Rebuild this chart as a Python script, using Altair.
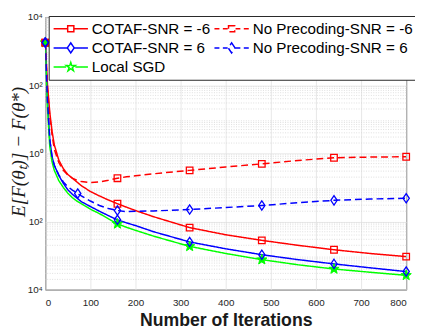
import math
import altair as alt
import pandas as pd

# ---------------- data ----------------
iterations = [0, 5, 10, 15, 20, 30, 40, 50, 60, 72, 80, 100, 120, 140, 160,
              180, 200, 240, 320, 400, 480, 560, 640, 720, 800]

cotaf_snr_m6 = [1778, 100, 15.8, 4.47, 1.78, 0.631, 0.355, 0.240, 0.186, 0.138,
                0.112, 0.0759, 0.0562, 0.0427, 0.0331, 0.0263, 0.0209, 0.0138,
                0.00661, 0.00407, 0.00279, 0.00200, 0.00148, 0.00115, 0.000933]
noprec_snr_m6 = [1778, 79.4, 12.6, 3.55, 1.32, 0.537, 0.316, 0.229, 0.186, 0.158,
                 0.148, 0.138, 0.145, 0.162, 0.186, 0.204, 0.219, 0.251,
                 0.316, 0.398, 0.490, 0.617, 0.741, 0.776, 0.794]
cotaf_snr_6 = [1778, 31.6, 2.51, 0.794, 0.447, 0.224, 0.132, 0.0851, 0.0631, 0.0468,
               0.0380, 0.0275, 0.0200, 0.0148, 0.0112, 0.00912, 0.00759, 0.00501,
               0.00251, 0.00158, 0.00106, 0.000759, 0.000569, 0.000437, 0.000339]
noprec_snr_6 = [1778, 31.6, 2.51, 0.794, 0.447, 0.234, 0.145, 0.105, 0.0832, 0.0661,
                0.0562, 0.0398, 0.0295, 0.0240, 0.0209, 0.0195, 0.0200, 0.0204,
                0.0224, 0.0257, 0.0295, 0.0355, 0.0417, 0.0457, 0.0479]
local_sgd = [1778, 20.0, 1.58, 0.562, 0.316, 0.158, 0.100, 0.0676, 0.0501, 0.0380,
             0.0331, 0.0229, 0.0170, 0.0120, 0.00851, 0.00676, 0.00550, 0.00372,
             0.00186, 0.00115, 0.000759, 0.000537, 0.000403, 0.000324, 0.000263]

# order = legend order (column by column)
series_names = ["COTAF-SNR = -6", "COTAF-SNR = 6", "Local SGD",
                "No Precoding-SNR = -6", "No Precoding-SNR = 6"]
series_values = [cotaf_snr_m6, cotaf_snr_6, local_sgd, noprec_snr_m6, noprec_snr_6]
series_colors = ["#ff0000", "#0000ff", "#00ff00", "#ff0000", "#0000ff"]

marker_iters = [0, 160, 320, 480, 640, 800]
marker_iters_np6 = [0, 72, 160, 320, 480, 640, 800]
series_markers = [marker_iters, marker_iters, marker_iters, marker_iters, marker_iters_np6]

x_ticks = [0, 100, 200, 300, 400, 500, 600, 700, 800]
y_exponents = [-4, -2, 0, 2, 4]
y_tick_labels = ["10⁴", "10²", "10⁰", "10²", "10⁴"]
y_ticks = [10.0 ** e for e in y_exponents]
y_minor = [k * 10.0 ** e for e in range(-4, 4) for k in range(2, 10)]

# ---------------- styles ----------------
SOLID = [1, 0]
DASHED = [7, 4]
series_dash = [SOLID, SOLID, SOLID, DASHED, DASHED]


def star_path(r_out, r_in, cx=0.0):
    pts = []
    for k in range(10):
        a = -math.pi / 2 + k * math.pi / 5
        r = r_out if k % 2 == 0 else r_in
        pts.append(f"{cx + r * math.cos(a):.3f},{r * math.sin(a):.3f}")
    return "M" + "L".join(pts) + "Z"


SQ = "M-0.18,-0.18H0.18V0.18H-0.18Z"
DI = "M0,-0.29L0.2,0L0,0.29L-0.2,0Z"
solid_line = lambda h: f"M-1,0H-{h}M{h},0H1"
dash_line = "M-1,0H-0.71M-0.51,0H-0.23M0.23,0H0.51M0.71,0H1"
legend_paths = [
    solid_line(0.18) + SQ,
    solid_line(0.2) + DI,
    solid_line(0.27) + star_path(0.27, 0.1),
    dash_line + SQ,
    dash_line + DI,
]

rows = []
for name, vals, marks in zip(series_names, series_values, series_markers):
    for it, v in zip(iterations, vals):
        rows.append({"series": name, "iteration": it, "value": v,
                     "marker": it in marks})
df = pd.DataFrame(rows)

label_expr = " : ".join(
    f"round(log(datum.value)/LN10) == {e} ? '{lab}'"
    for e, lab in zip(y_exponents, y_tick_labels)) + " : ''"

x_scale = alt.Scale(domain=[0, 800], nice=False, zero=False)
y_scale = alt.Scale(type="log", domain=[1e-4, 1e4], nice=False)

x_enc = alt.X("iteration:Q", scale=x_scale,
              axis=alt.Axis(values=x_ticks, title="Number of Iterations",
                            titleFontSize=18, titleFontWeight="bold",
                            titleFont="Liberation Sans", titleColor="#1a1a1a",
                            titleY=37, titleBaseline="alphabetic",
                            labelPadding=8))
y_axis = alt.Axis(values=y_ticks, labelExpr=label_expr,
                  title="E[F(θₜ)] − F(θ*)",
                  titleFont="Liberation Serif", titleFontStyle="italic",
                  titleFontWeight="normal", titleFontSize=19.5,
                  titleColor="#1a1a1a", titleAngle=270,
                  titleX=-27, titleY=137, titleAlign="center",
                  titleBaseline="middle", labelPadding=3)
y_enc = alt.Y("value:Q", scale=y_scale, axis=y_axis)
color_noleg = alt.Color("series:N",
                        scale=alt.Scale(domain=series_names, range=series_colors),
                        legend=None)

base = alt.Chart(df)

leg_props = dict(
    title=None, orient="none", legendX=3.5, legendY=-1, columns=2,
    symbolSize=1225, symbolStrokeWidth=1.5, symbolOpacity=1,
    symbolFillColor="#ffffff", labelLimit=300,
    labelFont="Liberation Sans", labelFontSize=15.5, labelColor="#000000",
    labelOffset=3, fillColor="#ffffff", strokeColor="#262626",
    padding=4, rowPadding=1.5, columnPadding=3, clipHeight=18,
)

legend_layer = base.transform_filter("false").mark_point(
    filled=False, opacity=1, strokeWidth=1.5
).encode(
    x=x_enc, y=y_enc,
    color=alt.Color("series:N",
                    scale=alt.Scale(domain=series_names, range=series_colors),
                    legend=alt.Legend(**leg_props)),
    shape=alt.Shape("series:N",
                    scale=alt.Scale(domain=series_names, range=legend_paths),
                    legend=alt.Legend(**leg_props)),
)

minor = alt.Chart(pd.DataFrame({"value": y_minor})).mark_rule(
    color="#d6d6d6", strokeDash=[1, 1.5], strokeWidth=0.8
).encode(y=y_enc)

lines = base.mark_line(strokeWidth=1.5, clip=True).encode(
    x=x_enc, y=y_enc, color=color_noleg,
    strokeDash=alt.StrokeDash("series:N",
                              scale=alt.Scale(domain=series_names, range=series_dash),
                              legend=None),
)

mk = base.transform_filter("datum.marker")

green = series_colors[series_names.index("Local SGD")]
stars = mk.transform_filter(alt.FieldOneOfPredicate(field="series", oneOf=["Local SGD"])).mark_point(
    shape=star_path(1, 0.42), size=120, filled=True, opacity=1, strokeWidth=1,
    fill=green, stroke=green
).encode(x=x_enc, y=y_enc)

squares = mk.transform_filter(alt.FieldOneOfPredicate(
    field="series", oneOf=["COTAF-SNR = -6", "No Precoding-SNR = -6"])).mark_point(
    shape="square", size=45, filled=False, opacity=1, strokeWidth=1.3
).encode(x=x_enc, y=y_enc, color=color_noleg)

diamonds = mk.transform_filter(alt.FieldOneOfPredicate(
    field="series", oneOf=["COTAF-SNR = 6", "No Precoding-SNR = 6"])).mark_point(
    shape="M0,-1L0.68,0L0,1L-0.68,0Z", size=90, filled=False, opacity=1, strokeWidth=1.3
).encode(x=x_enc, y=y_enc, color=color_noleg)

chart = alt.layer(legend_layer, minor, lines, stars, squares, diamonds).properties(
    width=368, height=278,
    autosize=alt.AutoSizeParams(type="none"),
    padding={"left": 38, "top": 6, "right": 9, "bottom": 39},
).configure_view(
    stroke="#333333", strokeWidth=1
).configure_axis(
    grid=True, gridColor="#e2e2e2", gridWidth=0.8, domain=False, ticks=False,
    labelFont="Liberation Sans", labelFontSize=10, labelColor="#262626",
)

chart.save("out.html", embed_options={"renderer": "svg", "actions": False})
